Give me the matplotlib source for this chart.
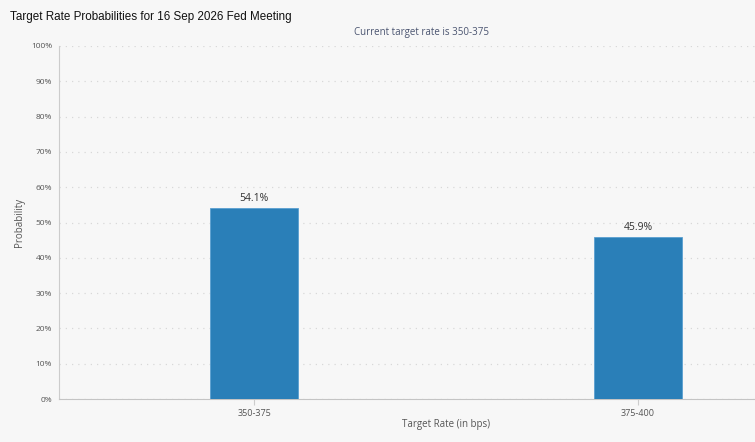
"""Fed target-rate probability bars for the 16 Sep 2026 meeting."""
import matplotlib

matplotlib.use("Agg")
import matplotlib.pyplot as plt

rates = ["350-375", "375-400"]
probs = [54.1, 45.9]
yticks = list(range(0, 101, 10))

BG = "#f7f7f7"
BAR = "#2a7fb8"
TEXT = "#555555"

fig = plt.figure(figsize=(7.55, 4.42), dpi=100, facecolor=BG)
W, H = 755, 442
# axes box in pixel coords: left 59, right 755, top 46, bottom 399
ax = fig.add_axes([59 / W, 1 - 399 / H, (755 - 59) / W, (399 - 46) / H])
ax.set_facecolor(BG)

x = list(range(len(rates)))
ax.bar(x, probs, width=0.229, color=BAR, edgecolor="#5a9fd0", linewidth=0.6, zorder=3)
for xi, p in zip(x, probs):
    ax.text(xi, p + 1.2, f"{p:.1f}%", ha="center", va="bottom", fontsize=7.5,
            color="#333333", family="Open Sans")

ax.set_xlim(-0.508, 1.305)
ax.set_ylim(0, 100)
ax.set_yticks(yticks)
ax.set_yticklabels([f"{t}%" for t in yticks], fontsize=6, color=TEXT, family="Open Sans")
ax.set_xticks(x)
ax.set_xticklabels(rates, fontsize=6.5, color=TEXT, family="Open Sans")
ax.tick_params(axis="y", length=0, pad=5)
ax.tick_params(axis="x", length=4, color="#cccccc", pad=3)
ax.grid(True, axis="y", color="#d8d8d8", lw=0.9, ls=(0, (1, 4)), zorder=0)

for side in ("top", "right"):
    ax.spines[side].set_visible(False)
ax.spines["left"].set_color("#cccccc")
ax.spines["bottom"].set_color("#c4c4c4")

fig.text(10 / W, 1 - 17 / H, "Target Rate Probabilities for 16 Sep 2026 Fed Meeting",
         fontsize=8.4, family="Liberation Sans", color="#111111", va="center")
fig.text(422 / W, 1 - 32 / H, "Current target rate is 350-375", fontsize=7,
         family="Open Sans", color="#4a5470", ha="center", va="center")
fig.text(20 / W, 1 - 222 / H, "Probability", fontsize=7, family="Open Sans",
         color=TEXT, rotation=90, ha="center", va="center")
fig.text(446 / W, 1 - 424 / H, "Target Rate (in bps)", fontsize=7, family="Open Sans",
         color=TEXT, ha="center", va="center")

fig.savefig("out.png", dpi=100, facecolor=BG)
